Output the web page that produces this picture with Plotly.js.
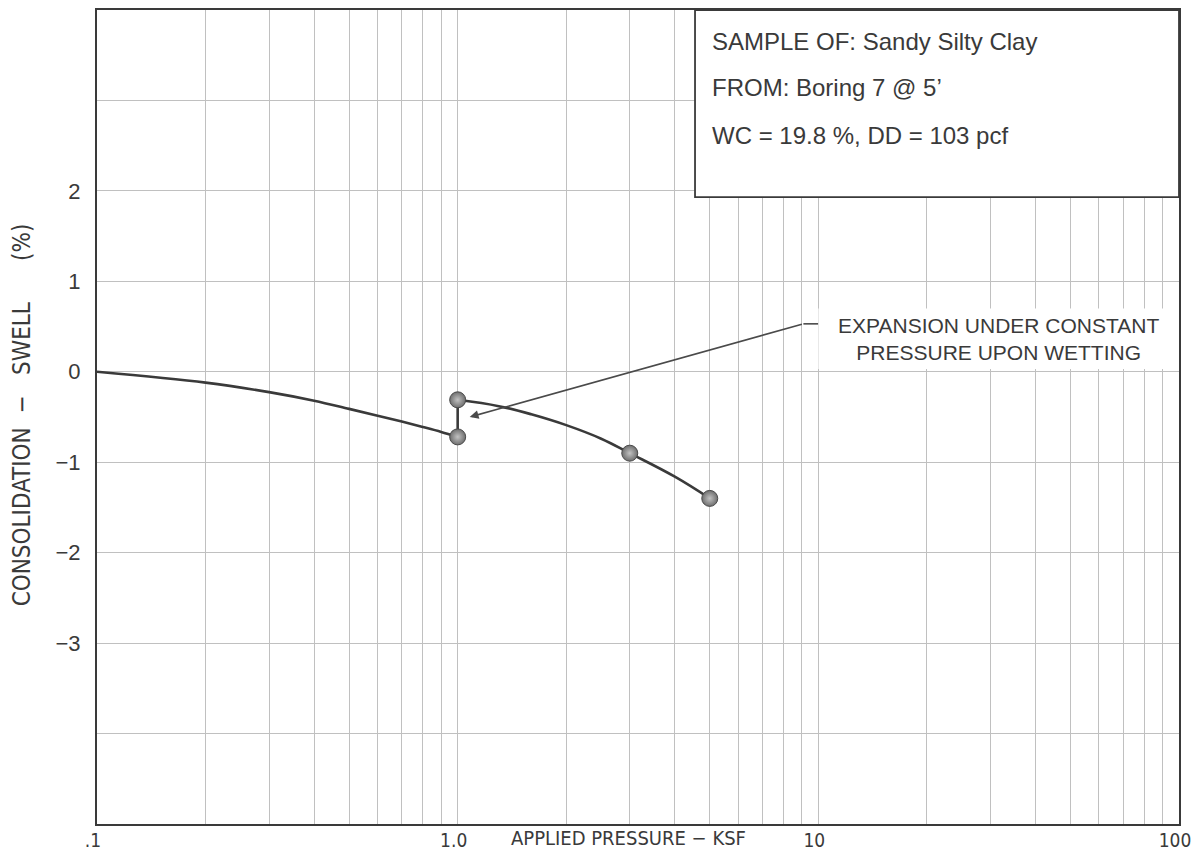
<!DOCTYPE html>
<html>
<head>
<meta charset="utf-8">
<script src="https://cdn.plot.ly/plotly-3.0.1.min.js"></script>
<style>
  html, body { margin: 0; padding: 0; background: #ffffff; }
  #chart { width: 1193px; height: 854px; }
</style>
</head>
<body>
<div id="chart"></div>
<script>
// ---- Data ----
// Loading curve before wetting (applied pressure ksf, consolidation-swell %)
const loadCurveX = [0.1, 0.2, 0.3, 0.4, 0.5, 0.6, 0.7, 0.8, 0.9, 1.0];
const loadCurveY = [0, -0.12, -0.225, -0.32, -0.41, -0.485, -0.55, -0.61, -0.665, -0.72];
// Expansion upon wetting at constant pressure
const wettingX = [1.0, 1.0];
const wettingY = [-0.72, -0.31];
// Loading curve after wetting
const wetCurveX = [1.0, 1.3, 1.6, 2.0, 2.5, 3.0, 4.0, 5.0];
const wetCurveY = [-0.31, -0.38, -0.47, -0.59, -0.74, -0.90, -1.16, -1.40];
// Measured test points
const pointX = [1.0, 1.0, 3.0, 5.0];
const pointY = [-0.72, -0.31, -0.90, -1.40];

// Axis ticks
const xGridVals = [0.1,0.2,0.3,0.4,0.5,0.6,0.7,0.8,0.9,1,2,3,4,5,6,7,8,9,10,20,30,40,50,60,70,80,90,100];
const xLabelMap = {0.1: '.1', 1: '1.0', 10: '10', 100: '100'};
const yGridVals = [-5, -4, -3, -2, -1, 0, 1, 2, 3, 4];
const yLabelMap = {'-3': '\u22123', '-2': '\u22122', '-1': '\u22121', '0': '0', '1': '1', '2': '2'};

// Callout leader (pressure, %)
const leaderX = [10, 9.09];
const leaderY = [0.53, 0.53];
const arrowTipX = 1.08;
const arrowTipY = -0.50;

// Texts
const infoLines = ['SAMPLE OF: Sandy Silty Clay', 'FROM: Boring 7 @ 5\u2019', 'WC = 19.8 %, DD = 103 pcf'];
const calloutText = 'EXPANSION UNDER CONSTANT<br>PRESSURE UPON WETTING';
const xTitleText = 'APPLIED PRESSURE \u2212 KSF';
const nb = n => '\u00A0'.repeat(n);
const yTitleText = 'CONSOLIDATION' + nb(2) + '\u2212' + nb(3) + 'SWELL' + nb(6) + '(%)';

// ---- Styles ----
const INK = '#3a3a3a';
const GRID = '#c0c0c0';
const NARROW = '"Liberation Sans Narrow", "Arial Narrow", "DejaVu Sans Condensed", "Liberation Sans", sans-serif';
const SANS = '"Liberation Sans", Arial, sans-serif';

const traces = [
  {x: loadCurveX, y: loadCurveY, type: 'scatter', mode: 'lines',
   line: {color: INK, width: 2.6, shape: 'spline', smoothing: 1}, hoverinfo: 'skip'},
  {x: wettingX, y: wettingY, type: 'scatter', mode: 'lines',
   line: {color: INK, width: 2.6}, hoverinfo: 'skip'},
  {x: wetCurveX, y: wetCurveY, type: 'scatter', mode: 'lines',
   line: {color: INK, width: 2.6, shape: 'spline', smoothing: 1.1}, hoverinfo: 'skip'},
  {x: leaderX, y: leaderY, type: 'scatter', mode: 'lines',
   line: {color: '#4a4a4a', width: 1.6}, hoverinfo: 'skip'},
  {x: pointX, y: pointY, type: 'scatter', mode: 'markers',
   marker: {size: 16, color: '#6e6e6e', gradient: {type: 'radial', color: '#c2c2c2'},
            line: {color: '#4a4a4a', width: 1}}, hoverinfo: 'skip'}
];

const annotations = [];
infoLines.forEach((t, i) => {
  annotations.push({text: t, xref: 'paper', yref: 'paper', x: 0.5665, y: [0.9607, 0.9054, 0.8464][i],
    xanchor: 'left', yanchor: 'middle', showarrow: false,
    font: {family: SANS, size: 24, color: INK}});
});
annotations.push({text: calloutText, xref: 'paper', yref: 'y', x: 0.8336, y: 0.36,
  xanchor: 'center', yanchor: 'middle', showarrow: false, align: 'center',
  font: {family: SANS, size: 21, color: INK}});
annotations.push({text: '', xref: 'x', yref: 'y', axref: 'x', ayref: 'y',
  x: Math.log10(arrowTipX), y: arrowTipY, ax: Math.log10(leaderX[1]), ay: leaderY[1],
  showarrow: true, arrowhead: 2, arrowsize: 1.1, arrowwidth: 1.6, arrowcolor: '#4a4a4a', standoff: 0});
annotations.push({text: xTitleText, xref: 'paper', yref: 'paper', x: 0.4915, y: -0.0172,
  xanchor: 'center', yanchor: 'middle', showarrow: false,
  font: {family: NARROW, size: 20, color: INK}});
annotations.push({text: yTitleText, xref: 'paper', yref: 'paper', x: -0.0695, y: 0.503,
  xanchor: 'center', yanchor: 'middle', showarrow: false, textangle: -90,
  font: {family: NARROW, size: 24, color: INK}});

const shapes = [
  {type: 'rect', xref: 'paper', yref: 'paper', x0: 0.5527, x1: 1, y0: 0.770, y1: 1,
   fillcolor: '#ffffff', line: {color: INK, width: 1.8}, layer: 'above'},
  {type: 'rect', xref: 'paper', yref: 'y', x0: 0.6667, x1: 0.9985, y0: 0.03, y1: 0.70,
   fillcolor: '#ffffff', line: {width: 0}, layer: 'above'}
];

const layout = {
  width: 1193, height: 854,
  margin: {l: 97, r: 14, t: 10, b: 30},
  paper_bgcolor: '#ffffff', plot_bgcolor: '#ffffff',
  showlegend: false,
  xaxis: {
    type: 'log', range: [-1, 2],
    tickmode: 'array', tickvals: xGridVals,
    ticktext: xGridVals.map(v => xLabelMap[v] || ''),
    showgrid: true, gridcolor: GRID, gridwidth: 1,
    showline: true, linecolor: INK, linewidth: 2, mirror: true,
    ticks: '', zeroline: false, ticklabelstandoff: -2, ticklabelshift: -4,
    tickfont: {family: NARROW, size: 19, color: INK}
  },
  yaxis: {
    range: [-5, 4],
    tickmode: 'array', tickvals: yGridVals,
    ticktext: yGridVals.map(v => yLabelMap[String(v)] || ''),
    showgrid: true, gridcolor: GRID, gridwidth: 1,
    showline: true, linecolor: INK, linewidth: 2, mirror: true,
    ticks: '', zeroline: false, ticklabelstandoff: 10,
    tickfont: {family: SANS, size: 22, color: INK}
  },
  annotations: annotations,
  shapes: shapes
};

Plotly.newPlot('chart', traces, layout, {staticPlot: true, displayModeBar: false});
</script>
</body>
</html>
